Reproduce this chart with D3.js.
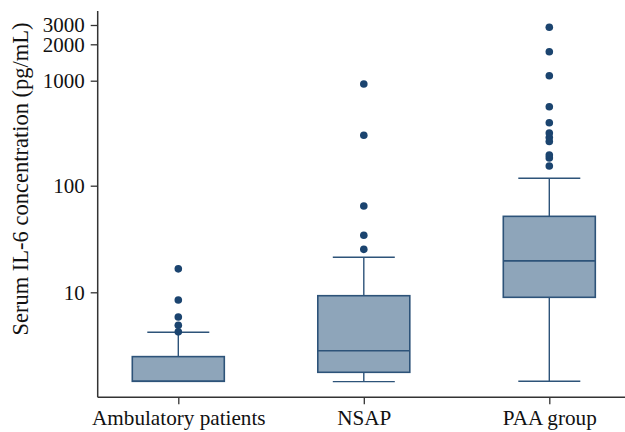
<!DOCTYPE html>
<html><head><meta charset="utf-8">
<script src="https://cdn.jsdelivr.net/npm/d3@7"></script>
<style>
html,body{margin:0;padding:0;background:#fff;}
</style></head>
<body>
<svg id="c" width="625" height="432"></svg>
<script>
const categories = ["Ambulatory patients", "NSAP", "PAA group"];
const whiskerLow = [1.42, 1.41, 1.42];
const q1 = [1.42, 1.73, 8.96];
const median = [1.42, 2.78, 19.7];
const q3 = [2.44, 9.28, 51.6];
const whiskerHigh = [4.16, 21.3, 117.6];
const outliers = [
  [4.2, 4.85, 5.82, 8.45, 16.6],
  [25.3, 34.3, 64.6, 302, 931],
  [154, 184, 196, 264, 288, 318, 398, 565, 1100, 1737, 2858]
];
const yTicks = [10, 100, 1000, 2000, 3000];
const yLabel = "Serum IL-6 concentration (pg/mL)";

(function () {
const FONT = '"Liberation Serif", "DejaVu Serif", serif';
const svg = d3.select("#c");
const mLeft = 97.7, mBottom = 397.3, mTop = 11, mRight = 625;
const boxW = 92, capW = 62;
const fill = "#8ea5ba", stroke = "#2d5379", dotColor = "#1b446f";

const x = d3.scalePoint().domain(categories).range([178.3, 549.3]);
const y = d3.scaleLog().domain([1, 10, 100, 1000, 2000, 3000])
  .range([mBottom, 292.3, 185.7, 80.7, 44.3, 25]);

const data = categories.map((c, i) => ({
  c, lo: whiskerLow[i], q1: q1[i], med: median[i], q3: q3[i], hi: whiskerHigh[i], out: outliers[i]
}));

const g = svg.append("g");
data.forEach(d => {
  const cx = x(d.c);
  if (d.hi > d.q3) {
    g.append("line").attr("x1", cx).attr("x2", cx).attr("y1", y(d.q3)).attr("y2", y(d.hi))
      .attr("stroke", stroke).attr("stroke-width", 1.4);
    g.append("line").attr("x1", cx - capW/2).attr("x2", cx + capW/2).attr("y1", y(d.hi)).attr("y2", y(d.hi))
      .attr("stroke", stroke).attr("stroke-width", 1.4);
  }
  if (d.lo < d.q1) {
    g.append("line").attr("x1", cx).attr("x2", cx).attr("y1", y(d.q1)).attr("y2", y(d.lo))
      .attr("stroke", stroke).attr("stroke-width", 1.4);
    g.append("line").attr("x1", cx - capW/2).attr("x2", cx + capW/2).attr("y1", y(d.lo)).attr("y2", y(d.lo))
      .attr("stroke", stroke).attr("stroke-width", 1.4);
  }
  g.append("rect").attr("x", cx - boxW/2).attr("width", boxW)
    .attr("y", y(d.q3)).attr("height", y(d.q1) - y(d.q3))
    .attr("fill", fill).attr("stroke", stroke).attr("stroke-width", 1.6);
  g.append("line").attr("x1", cx - boxW/2).attr("x2", cx + boxW/2).attr("y1", y(d.med)).attr("y2", y(d.med))
    .attr("stroke", stroke).attr("stroke-width", 1.6);
  g.selectAll(null).data(d.out).enter().append("circle")
    .attr("cx", cx).attr("cy", v => y(v)).attr("r", 3.8).attr("fill", dotColor);
});

const ya = svg.append("g").attr("transform", `translate(${mLeft},0)`)
  .call(d3.axisLeft(y).tickValues(yTicks).tickFormat(d3.format("d")).tickSize(7).tickPadding(6));
ya.attr("font-family", FONT).attr("font-size", 21);
ya.select(".domain").remove();
ya.selectAll(".tick line").attr("stroke", "#333").attr("stroke-width", 1.3);
ya.selectAll(".tick text").style("font-family", FONT).style("font-size", "21px").attr("fill", "#111");

const xa = svg.append("g").attr("transform", `translate(0,${mBottom})`)
  .call(d3.axisBottom(x).tickSize(7).tickPadding(6));
xa.attr("font-family", FONT).attr("font-size", 21);
xa.select(".domain").remove();
xa.selectAll(".tick line").attr("stroke", "#333").attr("stroke-width", 1.3);
xa.selectAll(".tick text").style("font-family", FONT).style("font-size", "21.2px").attr("fill", "#111");

svg.append("line").attr("x1", mLeft).attr("x2", mLeft).attr("y1", mTop).attr("y2", mBottom)
  .attr("stroke", "#333").attr("stroke-width", 1.5);
svg.append("line").attr("x1", mLeft).attr("x2", mRight).attr("y1", mBottom).attr("y2", mBottom)
  .attr("stroke", "#333").attr("stroke-width", 1.5);

svg.append("text").attr("transform", `translate(28,179) rotate(-90)`)
  .attr("text-anchor", "middle").style("font-family", FONT).style("font-size", "22.5px")
  .attr("fill", "#111").text(yLabel);
})();
</script>
</body></html>
